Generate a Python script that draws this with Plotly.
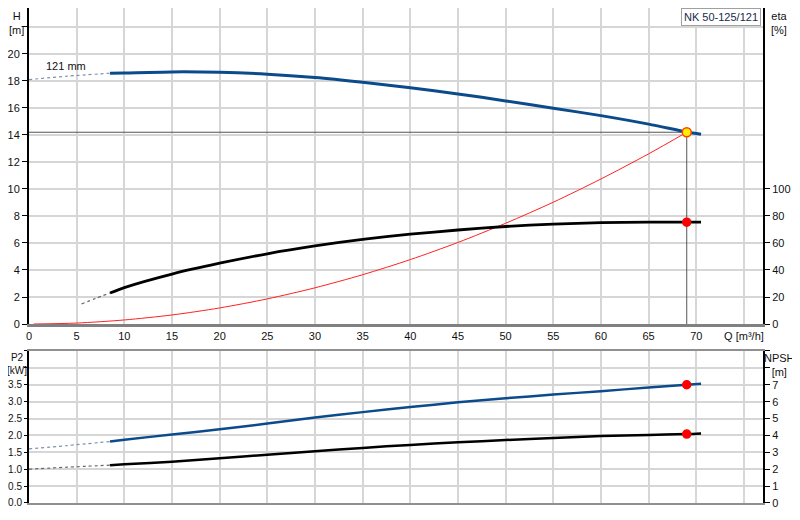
#!/usr/bin/env python3
'''
pump curve chart for NK 50-125/121: head, efficiency, P2 and NPSH against flow.
'''
import plotly.graph_objects as go

PUMP = 'NK 50-125/121'
IMPELLER = '121 mm'

# flow values [m3/h] for the solid part of the curves
q = [8.5, 10, 15, 20, 25, 30, 35, 40, 45, 50, 55, 60, 65, 69, 70.5]
# head [m]
head = [18.57, 18.59, 18.67, 18.64, 18.5, 18.25, 17.9, 17.5, 17.04, 16.52,
        15.98, 15.43, 14.8, 14.22, 14.05]
# efficiency [%]
eta = [23, 27, 37, 45, 52, 57.8, 62.6, 66.5, 69.6, 72.2, 74.0, 75.0, 75.4,
       75.4, 75.4]
# shaft power [kW]
p2 = [1.82, 1.87, 2.03, 2.18, 2.35, 2.53, 2.69, 2.84, 2.98, 3.10, 3.21, 3.31,
      3.42, 3.50, 3.53]
# NPSH [m]
npsh = [2.24, 2.29, 2.44, 2.65, 2.86, 3.06, 3.26, 3.44, 3.59, 3.73, 3.85, 3.96,
        4.03, 4.08, 4.12]

# dotted extensions at low flow
q_ext = [0, 4, 8.5]
head_ext = [18.1, 18.35, 18.57]
p2_ext = [1.6, 1.7, 1.82]
npsh_ext = [2.0, 2.12, 2.24]
q_eta_ext = [5.5, 7, 8.5]
eta_ext = [14.8, 19, 23]

# system curve (red)
q_sys = [0.5, 5, 10, 15, 20, 25, 30, 35, 40, 45, 50, 55, 60, 65, 69]
h_sys = [0, 0.07, 0.3, 0.67, 1.19, 1.86, 2.68, 3.65, 4.77, 6.04, 7.46, 9.02,
         10.74, 12.6, 14.2]

# duty point
q_duty = 69
h_duty = 14.2
eta_duty = 75.4
p2_duty = 3.5
npsh_duty = 4.08

x_ticks = list(range(0, 80, 5))
x_text = [str(v) for v in range(0, 75, 5)] + ['Q [m³/h]']
h_ticks = list(range(0, 24, 2))
h_text = [str(v) for v in range(0, 22, 2)] + ['']
eta_ticks = list(range(0, 120, 20))
p2_ticks = [v / 2 for v in range(0, 10)]
p2_text = ['%.1f' % v for v in p2_ticks[:8]] + ['', '']
npsh_ticks = list(range(0, 10))
npsh_text = [str(v) for v in range(0, 8)] + ['', '']

BLUE = '#0b4b8c'
GRID = '#d6d6d6'
FAMILY = 'Liberation Sans, Arial, sans-serif'
FONT = dict(family=FAMILY, size=11, color='#111')
SMALL = dict(family=FAMILY, size=10, color='#111')


def line(x, y, color, width, xa='x', ya='y', dash=None):
    return go.Scatter(x=x, y=y, mode='lines', xaxis=xa, yaxis=ya,
                      line=dict(color=color, width=width, dash=dash,
                                shape='spline', smoothing=0.8),
                      hoverinfo='skip', showlegend=False)


def dot(x, y, xa='x', ya='y', fill='#ff0000', edge='#ff0000', size=8):
    return go.Scatter(x=[x], y=[y], mode='markers', xaxis=xa, yaxis=ya,
                      marker=dict(color=fill, size=size,
                                  line=dict(color=edge, width=1.5)),
                      hoverinfo='skip', showlegend=False)


fig = go.Figure()
# duty point guide lines
fig.add_trace(line([0, q_duty], [h_duty, h_duty], '#555', 1))
fig.add_trace(line([q_duty, q_duty], [0, h_duty], '#555', 1))
# system curve
fig.add_trace(line(q_sys, h_sys, '#ff2020', 1))
# head
fig.add_trace(line(q_ext, head_ext, '#8090b0', 1.2, dash='dot'))
fig.add_trace(line(q, head, BLUE, 3))
# efficiency
fig.add_trace(line(q_eta_ext, eta_ext, '#666', 1.2, ya='y2', dash='dot'))
fig.add_trace(line(q, eta, '#000', 2.8, ya='y2'))
# P2 and NPSH
fig.add_trace(line(q_ext, p2_ext, '#8090b0', 1.2, 'x2', 'y3', dash='dot'))
fig.add_trace(line(q, p2, BLUE, 2.5, 'x2', 'y3'))
fig.add_trace(line(q_ext, npsh_ext, '#666', 1.2, 'x2', 'y4', dash='dot'))
fig.add_trace(line(q, npsh, '#000', 2.5, 'x2', 'y4'))
# markers
fig.add_trace(dot(q_duty, eta_duty, ya='y2'))
fig.add_trace(dot(q_duty, p2_duty, 'x2', 'y3'))
fig.add_trace(dot(q_duty, npsh_duty, 'x2', 'y4'))
fig.add_trace(dot(q_duty, h_duty, fill='#ffee00', edge='#ff4000', size=9))

y_common = dict(ticks='outside', tickcolor='#000', showline=True,
                linecolor='#000', linewidth=2, zeroline=False,
                automargin=False)

# the page body adds 8px, so the figure is 8px smaller than the window
fig.update_layout(
    width=792, height=512,
    margin=dict(l=21, r=37, t=0, b=17, autoexpand=False),
    plot_bgcolor='white', paper_bgcolor='white',
    font=FONT,
    xaxis=dict(domain=[0, 1], anchor='y', range=[0, 77], tickmode='array',
               tickvals=x_ticks, ticktext=x_text, showgrid=True,
               gridcolor=GRID, gridwidth=2, showline=True,
               linecolor='#808080', linewidth=3, zeroline=False,
               tickfont=FONT, automargin=False),
    xaxis2=dict(domain=[0, 1], anchor='y3', matches='x', range=[0, 77],
                tickmode='array', tickvals=x_ticks, showticklabels=False,
                showgrid=True, gridcolor=GRID, gridwidth=2, showline=True,
                mirror=True, linecolor='#909090', linewidth=2,
                zeroline=False, automargin=False),
    yaxis=dict(domain=[0.3616, 1], range=[0, 23.4], tickmode='array',
               tickvals=h_ticks, ticktext=h_text, showgrid=True,
               gridcolor=GRID, gridwidth=2, ticklen=5, tickfont=FONT,
               **y_common),
    yaxis2=dict(overlaying='y', side='right', anchor='x', range=[0, 234],
                tickmode='array', tickvals=eta_ticks, ticklen=5,
                tickfont=FONT, showgrid=False, **y_common),
    yaxis3=dict(domain=[0, 0.3071], anchor='x2', range=[0, 4.5],
                tickmode='array', tickvals=p2_ticks, ticktext=p2_text,
                showgrid=True, gridcolor=GRID, gridwidth=2, ticklen=3,
                tickfont=SMALL, **y_common),
    yaxis4=dict(overlaying='y3', side='right', anchor='x2', range=[0, 9],
                tickmode='array', tickvals=npsh_ticks, ticktext=npsh_text,
                ticklen=5, tickfont=FONT, showgrid=False, **y_common),
)

fig.add_annotation(text='H<br>[m]', xref='paper', yref='paper', x=-0.017,
                   y=1.0, xanchor='center', yanchor='top', showarrow=False)
fig.add_annotation(text='eta<br>[%]', xref='paper', yref='paper', x=1.022,
                   y=1.0, xanchor='center', yanchor='top', showarrow=False)
fig.add_annotation(text='P2<br>[kW]', xref='paper', yref='paper', x=-0.016,
                   y=0.309, xanchor='center', yanchor='top', showarrow=False,
                   font=SMALL)
fig.add_annotation(text='NPSH<br>[m]', xref='paper', yref='paper', x=1.022,
                   y=0.309, xanchor='center', yanchor='top', showarrow=False)
fig.add_annotation(text=IMPELLER, xref='x', yref='y', x=3.9, y=19.1,
                   showarrow=False)
fig.add_annotation(text=PUMP, xref='paper', yref='paper', x=0.997, y=1.0,
                   xanchor='right', yanchor='top', showarrow=False,
                   bgcolor='white', bordercolor='#a0a0a0', borderwidth=1,
                   borderpad=2, font=dict(family=FAMILY, size=11,
                                          color='#1a2a4a'))

fig.write_html('out.html')
